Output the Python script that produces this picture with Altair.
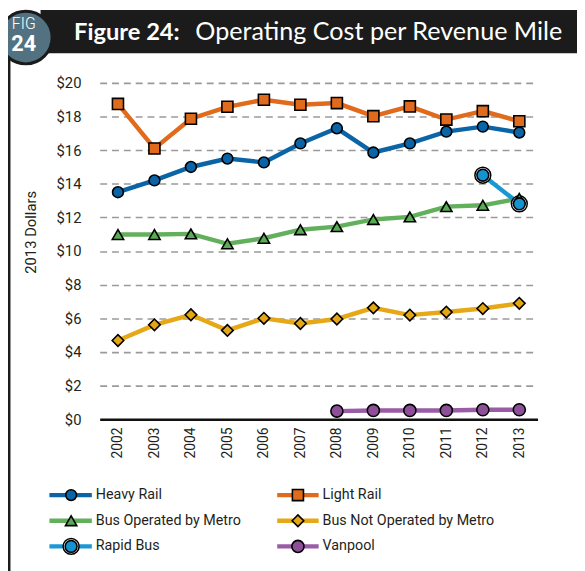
import altair as alt
import pandas as pd

years = list(range(2002, 2014))
series = ["Heavy Rail", "Light Rail", "Bus Operated by Metro",
          "Bus Not Operated by Metro", "Rapid Bus", "Vanpool"]

heavy_rail = [13.5, 14.2, 15.0, 15.5, 15.27, 16.4, 17.3, 15.86, 16.4, 17.1, 17.4, 17.05]
light_rail = [18.75, 16.1, 17.87, 18.58, 19.0, 18.7, 18.8, 18.02, 18.6, 17.82, 18.32, 17.72]
bus_metro = [10.98, 10.98, 11.02, 10.43, 10.76, 11.27, 11.45, 11.88, 12.03, 12.64, 12.72, 13.13]
bus_not_metro = [4.68, 5.61, 6.21, 5.28, 6.0, 5.69, 5.96, 6.62, 6.19, 6.37, 6.58, 6.89]
rapid_bus = [None] * 10 + [14.51, 12.81]
vanpool = [None] * 6 + [0.48, 0.52, 0.52, 0.52, 0.56, 0.56]

y_ticks = list(range(0, 21, 2))

colors = ["#0a64a6", "#e06b1c", "#5aab55", "#e4a614", "#1593d1", "#8d4f98"]
line_colors = ["#0a64a6", "#e06b1c", "#62b05c", "#e6a817", "#1a98d4", "#9a5ca6"]
shapes = ["circle", "square", "triangle-up", "diamond", "circle", "circle"]
sizes = [120, 150, 130, 110, 110, 115]

values = [heavy_rail, light_rail, bus_metro, bus_not_metro, rapid_bus, vanpool]
rows = []
for s, vals in zip(series, values):
    for y, v in zip(years, vals):
        if v is not None:
            rows.append({"year": y, "series": s, "value": v})
df = pd.DataFrame(rows)

legend_df = pd.DataFrame({"series": series, "idx": list(range(len(series)))})

FONT = "Roboto"
W, H = 444, 341

color_scale = alt.Scale(domain=series, range=colors)
line_scale = alt.Scale(domain=series, range=line_colors)
shape_scale = alt.Scale(domain=series, range=shapes)
size_scale = alt.Scale(domain=series, range=sizes)

x_enc = alt.X("year:O", scale=alt.Scale(type="point", padding=0.5),
              axis=alt.Axis(title=None, labelAngle=270, labelAlign="right",
                            labelBaseline="middle", labelPadding=8,
                            labelFontSize=14, labelFont=FONT, labelColor="#231f20",
                            domain=True, domainColor="#111", domainWidth=2.5,
                            ticks=False, grid=False))
y_enc = alt.Y("value:Q", scale=alt.Scale(domain=[0, 20], nice=False),
              axis=alt.Axis(values=y_ticks, labelExpr="'$' + datum.value",
                            title="2013 Dollars", titleFont=FONT, titleFontSize=15,
                            titleFontWeight="normal", titleColor="#231f20",
                            titleX=-62, titleY=151, titleAngle=270,
                            labelFontSize=15, labelFont=FONT, labelColor="#231f20",
                            labelPadding=19, domain=False, ticks=False,
                            grid=True, gridDash=[7, 5], gridColor="#9a9a9a",
                            gridWidth=1.6))

base = alt.Chart(df)

lines = base.mark_line(strokeWidth=4.5).encode(
    x=x_enc, y=y_enc,
    color=alt.Color("series:N", scale=line_scale, legend=None),
    detail="series:N",
    order=alt.Order("year:O"),
)

rapid_ring = base.transform_filter(alt.datum.series == "Rapid Bus").mark_point(
    filled=True, fill="white", stroke="black", strokeWidth=1.5, opacity=1, size=260
).encode(x=x_enc, y=y_enc)

points = base.mark_point(filled=True, stroke="black", strokeWidth=1.6, opacity=1).encode(
    x=x_enc, y=y_enc,
    fill=alt.Fill("series:N", scale=color_scale, legend=None),
    shape=alt.Shape("series:N", scale=shape_scale, legend=None),
    size=alt.Size("series:N", scale=size_scale, legend=None),
)

main = alt.layer(lines, rapid_ring, points)

# ---- decorations (header / frame) in pixel space ----
one = pd.DataFrame({"k": [0]})
header_bar = alt.Chart(one).mark_rect(color="#1b1b1b").encode(
    x=alt.value(-60), x2=alt.value(W + 40), y=alt.value(-74), y2=alt.value(-30))
frame = alt.Chart(one).mark_rule(color="#1b1b1b", strokeWidth=3).encode(
    x=alt.value(-92), y=alt.value(-35), y2=alt.value(H + 160))
fig_circle = alt.Chart(one).mark_point(
    filled=True, fill="#527281", stroke="#1b1b1b", strokeWidth=3, opacity=1,
    shape="circle", size=2850).encode(x=alt.value(-75), y=alt.value(-46))
fig_txt = alt.Chart(one).mark_text(
    text="FIG", font=FONT, fontSize=16, fontWeight=300, color="white",
    align="center", baseline="alphabetic").encode(x=alt.value(-77), y=alt.value(-55))
fig_num = alt.Chart(one).mark_text(
    text="24", font=FONT, fontSize=22, fontWeight="bold", color="white",
    align="center", baseline="alphabetic").encode(x=alt.value(-77), y=alt.value(-32))
title_bold = alt.Chart(one).mark_text(
    text="Figure 24:", font="Lato", fontSize=24, fontWeight="bold", color="white",
    align="left", baseline="alphabetic").encode(x=alt.value(-26), y=alt.value(-44))
title_reg = alt.Chart(one).mark_text(
    text="Operating Cost per Revenue Mile", font="Lato", fontSize=25.5,
    fontWeight="normal", color="white",
    align="left", baseline="alphabetic").encode(x=alt.value(97), y=alt.value(-44))

# ---- custom legend ----
leg = alt.Chart(legend_df).transform_calculate(
    col="datum.idx % 2",
    row="floor(datum.idx / 2)",
).transform_calculate(
    cx="datum.col == 0 ? -29 : 201",
    lx1="datum.col == 0 ? -51 : 180",
    lx2="datum.col == 0 ? -8 : 222",
    tx="datum.col == 0 ? -4 : 226",
    ly="418 + datum.row * 26",
)
leg_lines = leg.mark_rule(strokeWidth=4.5).encode(
    x=alt.X("lx1:Q", scale=None, axis=None), x2="lx2:Q",
    y=alt.Y("ly:Q", scale=None, axis=None),
    color=alt.Color("series:N", scale=line_scale, legend=None))
leg_ring = leg.transform_filter(alt.datum.series == "Rapid Bus").mark_point(
    filled=True, fill="white", stroke="black", strokeWidth=1.5, opacity=1, size=260
).encode(x=alt.X("cx:Q", scale=None, axis=None), y=alt.Y("ly:Q", scale=None, axis=None))
leg_pts = leg.mark_point(filled=True, stroke="black", strokeWidth=1.6, opacity=1).encode(
    x=alt.X("cx:Q", scale=None, axis=None), y=alt.Y("ly:Q", scale=None, axis=None),
    fill=alt.Fill("series:N", scale=color_scale, legend=None),
    shape=alt.Shape("series:N", scale=shape_scale, legend=None),
    size=alt.Size("series:N", scale=size_scale, legend=None))
leg_txt = leg.mark_text(font=FONT, fontSize=14.5, color="#231f20", align="left",
                        baseline="middle").encode(
    x=alt.X("tx:Q", scale=None, axis=None), y=alt.Y("ly:Q", scale=None, axis=None),
    text="series:N")

chart = alt.layer(
    header_bar, frame, main, fig_circle, fig_txt, fig_num, title_bold, title_reg,
    leg_lines, leg_ring, leg_pts, leg_txt,
).resolve_scale(
    x="independent", y="independent"
).properties(
    width=W, height=H,
    autosize=alt.AutoSizeParams(type="none"),
    padding={"left": 93, "top": 72, "right": 40, "bottom": 150},
    background="white",
).configure_view(stroke=None)

chart.save("out.html", embed_options={"renderer": "svg", "actions": False})
